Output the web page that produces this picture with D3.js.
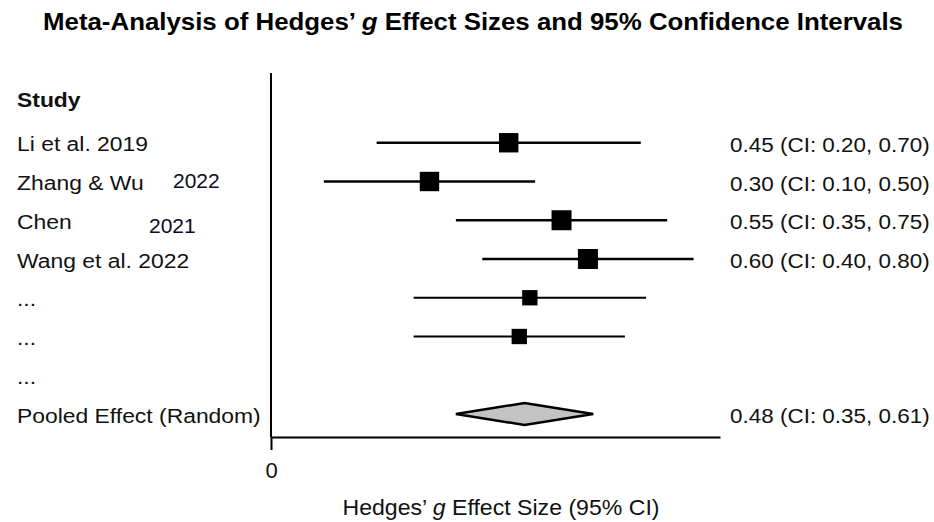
<!DOCTYPE html>
<html>
<head>
<meta charset="utf-8">
<script src="https://cdn.jsdelivr.net/npm/d3@7"></script>
<style>
  body { margin: 0; background: #fff; }
  text { font-family: "Liberation Sans", Arial, Helvetica, sans-serif; fill: #111; }
</style>
</head>
<body>
<div id="chart"></div>
<script>
// Forest plot data
const rowLabels = ["Li et al. 2019", "Zhang & Wu", "Chen", "Wang et al. 2022", "...", "...", "...", "Pooled Effect (Random)"];
const addedYears = ["", "2022", "2021", "", "", ""];
const estimates = [0.45, 0.30, 0.55, 0.60, 0.49, 0.47];
const lowerCI = [0.20, 0.10, 0.35, 0.40, 0.27, 0.27];
const upperCI = [0.70, 0.50, 0.75, 0.80, 0.71, 0.67];
const weights = [16, 16, 17, 17, 10, 10];
const pooledEstimate = 0.48;
const pooledLower = 0.35;
const pooledUpper = 0.61;
const xTicks = [0];

const W = 934, H = 522;
const stretch = 1.09; // reference text is a bit wide

const svg = d3.select("#chart")
  .append("svg")
  .attr("width", W)
  .attr("height", H);

const x = d3.scaleLinear()
  .domain([0, 0.85])
  .range([271, 720]);

// row 0 is the "Study" header
const y = d3.scalePoint()
  .domain(d3.range(rowLabels.length + 1))
  .range([104, 414]);

const size = d3.scaleSqrt()
  .domain([0, d3.max(weights)])
  .range([0, 20]);

const axisY = 437;
const fmt = d3.format(".2f");

function wideText(parent, px, py, sx) {
  return parent.append("text")
    .attr("transform", `translate(${px},${py}) scale(${sx},1)`);
}

// title
const title = wideText(svg, 473, 30, 1.1)
  .attr("text-anchor", "middle")
  .style("font-size", "23.5px")
  .style("font-weight", "bold")
  .style("fill", "#000");
title.append("tspan").text("Meta-Analysis of Hedges’ ");
title.append("tspan").style("font-style", "italic").text("g");
title.append("tspan").text(" Effect Sizes and 95% Confidence Intervals");

// header
wideText(svg, 17, y(0) + 3, stretch)
  .style("font-size", "21px")
  .style("font-weight", "bold")
  .text("Study");

// left labels
rowLabels.forEach((label, i) => {
  wideText(svg, 17, y(i + 1) + 8.5, stretch)
    .style("font-size", "21px")
    .text(label);
});

// years pasted next to two study names
const yearPos = [null, [173, 6.8], [149, 12.5]];
addedYears.forEach((yr, i) => {
  if (!yr) return;
  svg.append("text")
    .attr("x", yearPos[i][0])
    .attr("y", y(i + 1) + yearPos[i][1])
    .style("font-size", "21px")
    .style("fill", "#0b0b23")
    .text(yr);
});

// right-hand estimate labels
estimates.forEach((est, i) => {
  if (rowLabels[i] === "...") return;
  wideText(svg, 730, y(i + 1) + 9, 1.07)
    .style("font-size", "21px")
    .text(`${fmt(est)} (CI: ${fmt(lowerCI[i])}, ${fmt(upperCI[i])})`);
});
wideText(svg, 730, y(rowLabels.length) + 9, 1.07)
  .style("font-size", "21px")
  .text(`${fmt(pooledEstimate)} (CI: ${fmt(pooledLower)}, ${fmt(pooledUpper)})`);

// confidence interval lines
svg.append("g")
  .attr("stroke", "#000")
  .selectAll("line")
  .data(estimates)
  .join("line")
  .attr("x1", (d, i) => x(lowerCI[i]))
  .attr("x2", (d, i) => x(upperCI[i]))
  .attr("y1", (d, i) => y(i + 1))
  .attr("y2", (d, i) => y(i + 1))
  .attr("stroke-width", (d, i) => weights[i] > 12 ? 2.5 : 2);

// point estimates
svg.append("g")
  .attr("fill", "#000")
  .selectAll("rect")
  .data(estimates)
  .join("rect")
  .attr("x", (d, i) => x(d) - size(weights[i]) / 2)
  .attr("y", (d, i) => y(i + 1) - size(weights[i]) / 2)
  .attr("width", (d, i) => size(weights[i]))
  .attr("height", (d, i) => size(weights[i]));

// pooled diamond
const py = y(rowLabels.length);
svg.append("path")
  .attr("d", `M${x(pooledLower)},${py} L${x(pooledEstimate)},${py - 11} L${x(pooledUpper)},${py} L${x(pooledEstimate)},${py + 11} Z`)
  .attr("fill", "#c3c3c3")
  .attr("stroke", "#000")
  .attr("stroke-width", 2.5)
  .attr("stroke-linejoin", "miter");

// vertical line at zero
svg.append("line")
  .attr("x1", x(0)).attr("x2", x(0))
  .attr("y1", 73).attr("y2", axisY)
  .attr("stroke", "#000")
  .attr("stroke-width", 2);

// x axis
const xAxis = svg.append("g")
  .attr("transform", `translate(0,${axisY})`)
  .call(d3.axisBottom(x)
    .tickValues(xTicks)
    .tickSize(13)
    .tickSizeOuter(0)
    .tickPadding(12)
    .tickFormat(d3.format("d")));
xAxis.select(".domain").attr("stroke-width", 2);
xAxis.selectAll(".tick line").attr("stroke-width", 2);
xAxis.selectAll(".tick text")
  .style("font-size", "22px")
  .style("font-family", "'Liberation Sans', Arial, sans-serif")
  .attr("fill", "#111");

// x axis title
const xTitle = wideText(svg, 501, 515, 1.05)
  .attr("text-anchor", "middle")
  .style("font-size", "22px");
xTitle.append("tspan").text("Hedges’ ");
xTitle.append("tspan").style("font-style", "italic").text("g");
xTitle.append("tspan").text(" Effect Size (95% CI)");
</script>
</body>
</html>
